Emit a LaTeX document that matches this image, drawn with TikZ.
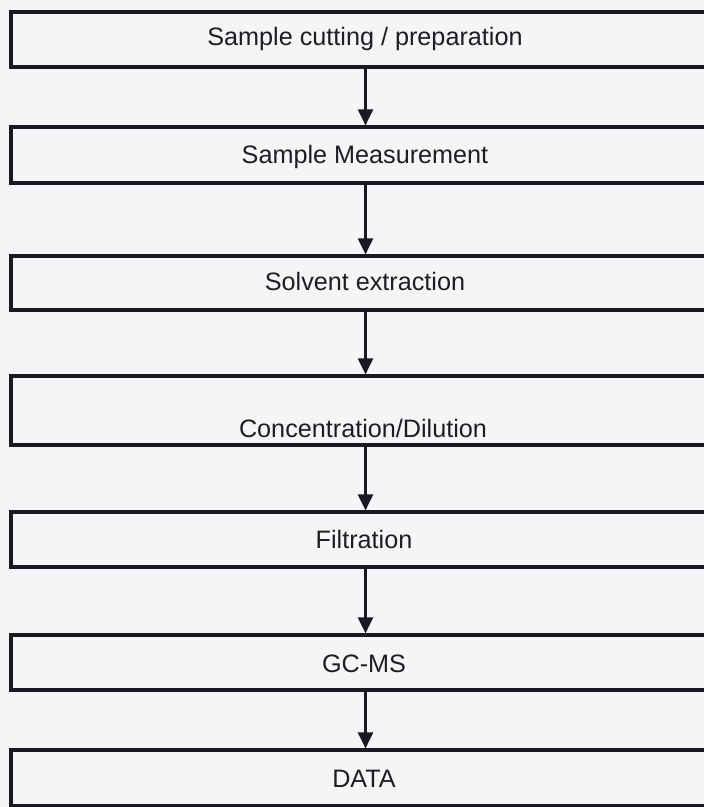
\documentclass[tikz,border=0pt]{standalone}
\usepackage{fontspec}
\setmainfont{Liberation Sans}
\usetikzlibrary{arrows.meta}
\definecolor{paper}{HTML}{F7F4F7}
\definecolor{ink}{HTML}{1A1822}
\definecolor{txt}{HTML}{1F1D22}
\tikzset{
  box/.style={draw=ink, line width=1.6pt, rectangle, inner sep=0pt,
              minimum width=354.5pt, fill=none},
  lbl/.style={inner sep=0pt, text height=9pt, text depth=0pt,
              font=\fontsize{12.6pt}{14pt}\selectfont, text=txt},
  flow/.style={draw=ink, line width=1.1pt,
               -{Triangle[length=8pt,width=7.5pt]}}
}
\begin{document}
\begin{tikzpicture}[x=0.5pt,y=-0.5pt]
\useasboundingbox (0,0) rectangle (704,807);
\fill[paper] (0,0) rectangle (704,807);
\begin{scope}
\clip (0,0) rectangle (704,807);
\node[box, minimum height=27.5pt] (b1) at (365.5,39.5) {};
\node[box, minimum height=28pt]   (b2) at (365.5,155) {};
\node[box, minimum height=27pt]   (b3) at (365.5,283) {};
\node[box, minimum height=34.5pt] (b4) at (365.5,410.5) {};
\node[box, minimum height=27.5pt] (b5) at (365.5,539.5) {};
\node[box, minimum height=27.5pt] (b6) at (365.5,662.5) {};
\node[box, minimum height=28pt]   (b7) at (365.5,778) {};

\node[lbl] (t1) at (365,37)  {Sample cutting / preparation};
\node[lbl] (t2) at (365,155) {Sample Measurement};
\node[lbl] (t3) at (365,282) {Solvent extraction};
\node[lbl] (t4) at (363,428) {Concentration/Dilution};
\node[lbl] (t5) at (364,539) {Filtration};
\node[lbl] (t6) at (364,663) {GC-MS};
\node[lbl] (t7) at (364,778) {DATA};

\draw[flow] (b1.south) -- (b2.north);
\draw[flow] (b2.south) -- (b3.north);
\draw[flow] (b3.south) -- (b4.north);
\draw[flow] (b4.south) -- (b5.north);
\draw[flow] (b5.south) -- (b6.north);
\draw[flow] (b6.south) -- (b7.north);
\end{scope}
\end{tikzpicture}
\end{document}
